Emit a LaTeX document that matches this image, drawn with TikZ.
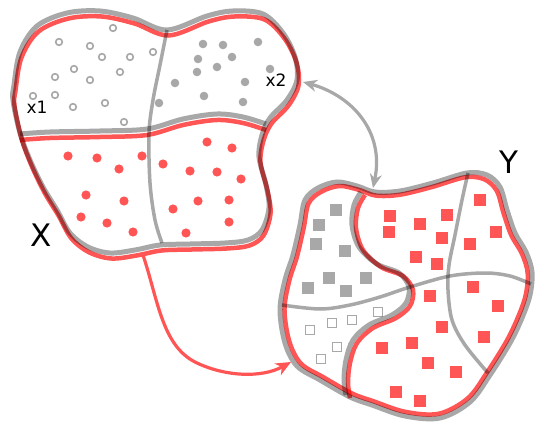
\documentclass[tikz,border=0pt]{standalone}
\usepackage{fontspec}
\setmainfont{DejaVu Sans}
\usetikzlibrary{arrows.meta}
\definecolor{cred}{HTML}{FF5555}
\definecolor{cgray}{HTML}{A8A8A8}
\begin{document}
\begin{tikzpicture}[x=1pt,y=-1pt,
  grayline/.style={draw=cgray,line width=5pt},
  redline/.style={draw=cred,line width=4.5pt},
  grayin/.style={draw=cgray,line width=3.5pt},
  opendot/.style={draw=cgray,line width=1.6pt},
  grayarrow/.style={draw=cgray,line width=3.2pt,{Stealth[length=14pt,width=12pt,inset=4.5pt]}-{Stealth[length=14pt,width=12pt,inset=4.5pt]}},
  redarrow/.style={draw=cred,line width=3.2pt,-{Stealth[length=15pt,width=13pt,inset=4.5pt]}},
  small/.style={font=\fontsize{17}{20}\selectfont,inner sep=0pt},
  big/.style={font=\fontsize{31}{36}\selectfont,inner sep=0pt}]
\useasboundingbox (0,0) rectangle (538,428);

% ---------- dots of X ----------
\foreach \p in {(113,28),(59,42),(90,46),(102,57),(130,57),(153,52),(74,69),(120,72),(55,77),(90,80),(33,96),(55,95),(73,107),(105,103),(124,122)}
  \draw[opendot] \p circle[radius=3.3pt];
\foreach \p in {(203,44),(223,45),(258,42),(198,59),(232,57),(217,67),(197,72),(270,69),(175,83),(245,82),(204,96),(243,102),(159,103)}
  \fill[cgray] \p circle[radius=4.3pt];
\foreach \p in {(207,142),(232,148),(68,156),(97,158),(142,156),(119,169),(163,164),(190,171),(217,172),(241,179),(86,195),(124,201),(198,201),(229,200),(173,209),(81,217),(107,223),(133,232),(186,233),(229,222)}
  \fill[cred] \p circle[radius=4.6pt];

% ---------- squares of Y ----------
\foreach \p in {(336,210),(319,225),(316,244),(345,251),(329,278),(366,278),(308,288),(346,291)}
  \fill[cgray] \p ++(-5.6,-5.6) rectangle ++(11.2,11.2);
\foreach \p in {(310,330),(332,323),(352,320),(378,312),(337,347),(321,359)}
  \draw[opendot] \p ++(-4.6,-4.6) rectangle ++(9.2,9.2);
\foreach \p in {(480,200),(390,216),(447,215),(420,224),(389,232),(496,232),(442,238),(470,244),(416,257),(437,264),(473,287),(430,296),(498,306),(442,327),(412,343),(484,337),(382,348),(428,363),(456,372),(396,392),(420,401)}
  \fill[cred] \p ++(-5.8,-5.8) rectangle ++(11.6,11.6);

\begin{scope}[blend mode=multiply]
% ---------- set X ----------
\def\Xoutline{plot[smooth cycle,tension=0.55] coordinates {(13,100) (14,85) (20,52) (37,26) (67,13) (100,11) (133,18) (167,30) (207,16) (233,11) (263,14) (283,33) (295,57) (297,80) (287,100) (270,118) (262,135) (259,157) (266,185) (269,208) (262,230) (248,240) (225,243) (190,244) (160,245) (135,250) (110,253) (88,247) (70,233) (57,210) (43,187) (30,160) (20,133)}}
\def\Xdiv{plot[smooth,tension=0.55] coordinates {(20,134) (50,132) (100,131) (147,129) (183,119) (217,114) (243,117) (266,124)}}
\draw[redline,shift={(1.5,5.5)}] \Xoutline;
\draw[redline,shift={(0,6)}] \Xdiv;
\draw[grayline] \Xoutline;
\draw[grayline] \Xdiv;
\draw[grayin] plot[smooth,tension=0.55] coordinates {(167,30) (160,65) (153,100) (149,133) (150,183) (155,220) (162,243)};

% ---------- set Y ----------
\def\Youtline{plot[smooth cycle,tension=0.55] coordinates {(305,200) (318,188) (337,182) (357,186) (375,192) (400,191) (433,183) (467,173) (487,175) (500,187) (507,210) (515,233) (526,252) (532,272) (530,295) (522,318) (510,343) (490,375) (470,402) (440,418) (405,416) (372,405) (350,397) (320,380) (297,366) (285,343) (280,310) (285,280) (293,255) (300,225)}}
\def\YS{plot[smooth,tension=0.55] coordinates {(365,195) (358,208) (356,228) (363,250) (381,267) (403,276) (413,290) (410,306) (396,318) (373,328) (357,343) (350,363) (348,383) (350,398)}}
\draw[redline,scale around={0.965:(408,296)}] \Youtline;
\draw[redline] \YS;
\draw[grayline] \Youtline;
\draw[grayline,shift={(-4,-3)}] \YS;
\draw[grayin] plot[smooth,tension=0.55] coordinates {(282,305) (320,309) (350,305) (380,297) (410,287) (450,276) (485,273) (510,276) (531,284)};
\draw[grayin] plot[smooth,tension=0.55] coordinates {(468,173) (462,200) (455,235) (449,265) (448,290) (452,320) (465,345) (488,373)};
\end{scope}

% ---------- connectors ----------
\coordinate (ga) at (303,82);
\coordinate (gb) at (373,188);
\coordinate (ra) at (143,255);
\coordinate (rb) at (291,362);
\draw[grayarrow] (ga) .. controls (350,95) and (385,130) .. (gb);
\draw[redarrow] (ra) .. controls (158,300) and (162,345) .. (195,362) .. controls (225,377) and (262,378) .. (rb);

% ---------- labels ----------
\node[small] (x1) at (37,107) {x1};
\node[small] (x2) at (276,80) {x2};
\node[big] (X) at (41,235) {X};
\node[big] (Y) at (509,162) {Y};
\end{tikzpicture}
\end{document}
